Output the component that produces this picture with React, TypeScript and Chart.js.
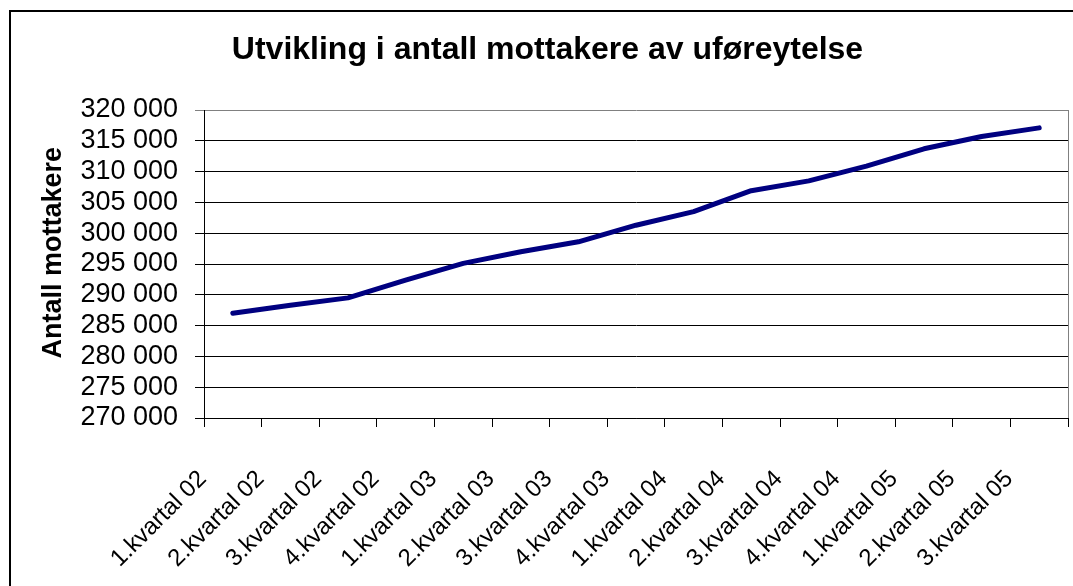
import React, { useEffect, useRef } from "react";
import { Chart, registerables } from "chart.js";

Chart.register(...registerables);

const categories = [
  "1.kvartal 02", "2.kvartal 02", "3.kvartal 02", "4.kvartal 02",
  "1.kvartal 03", "2.kvartal 03", "3.kvartal 03", "4.kvartal 03",
  "1.kvartal 04", "2.kvartal 04", "3.kvartal 04", "4.kvartal 04",
  "1.kvartal 05", "2.kvartal 05", "3.kvartal 05",
];
const mottakere = [
  287000, 288300, 289500, 292400, 295100, 297000, 298600, 301300,
  303500, 306900, 308500, 310900, 313700, 315700, 317100,
];
const yMin = 270000;
const yMax = 320000;
const yStep = 5000;
const chartTitle = "Utvikling i antall mottakere av uføreytelse";
const yTitle = "Antall mottakere";

const FONT = "'Liberation Sans', Arial, sans-serif";

function fmt(v: number): string {
  const t = Math.floor(v / 1000);
  const r = Math.round(v % 1000);
  return `${t} ${String(r).padStart(3, "0")}`;
}

const plotBorder = {
  id: "plotBorder",
  beforeDatasetsDraw(chart: any) {
    const { ctx, chartArea } = chart;
    ctx.save();
    ctx.strokeStyle = "#808080";
    ctx.lineWidth = 1;
    ctx.beginPath();
    const x = Math.round(chartArea.right) + 0.5;
    ctx.moveTo(x, chartArea.top);
    ctx.lineTo(x, chartArea.bottom);
    ctx.stroke();
    ctx.restore();
  },
};

export default function App() {
  const ref = useRef<HTMLCanvasElement | null>(null);

  useEffect(() => {
    if (!ref.current) return;
    const chart = new Chart(ref.current, {
      type: "line",
      data: {
        labels: categories,
        datasets: [
          {
            data: mottakere,
            borderColor: "#000080",
            backgroundColor: "#000080",
            borderWidth: 5,
            pointRadius: 0,
            borderCapStyle: "round",
            borderJoinStyle: "round",
            tension: 0,
          },
        ],
      },
      options: {
        animation: false,
        responsive: false,
        maintainAspectRatio: false,
        layout: { padding: { left: 27, right: 5, top: 0, bottom: 0 } },
        plugins: {
          legend: { display: false },
          tooltip: { enabled: false },
          title: {
            display: true,
            text: chartTitle,
            color: "#000",
            font: { family: FONT, size: 32, weight: "bold" },
            padding: { top: 31, bottom: 40.6 },
          },
        },
        scales: {
          x: {
            offset: true,
            grid: {
              offset: true,
              drawOnChartArea: false,
              drawTicks: true,
              tickLength: 9,
              color: "#000",
              lineWidth: 1,
            },
            border: { color: "#000", width: 1 },
            ticks: {
              autoSkip: false,
              maxRotation: 45,
              minRotation: 45,
              padding: 38,
              labelOffset: -30,
              color: "#000",
              font: { family: FONT, size: 24 },
            },
            afterFit: (s: any) => {
              s.height = 168;
              s.paddingLeft = 0;
              s.paddingRight = 0;
            },
          },
          y: {
            min: yMin,
            max: yMax,
            ticks: {
              stepSize: yStep,
              autoSkip: false,
              padding: 17,
              color: "#000",
              font: { family: FONT, size: 27 },
              callback: (v: any) => fmt(Number(v)),
            },
            grid: {
              color: (c: any) => (c.tick && c.tick.value === yMax ? "#808080" : "#000"),
              lineWidth: 1,
              tickLength: 9,
              drawTicks: true,
            },
            border: { color: "#000", width: 1 },
            title: {
              display: true,
              text: "   " + yTitle,
              color: "#000",
              font: { family: FONT, size: 27, weight: "bold" },
              padding: { top: 10.4, bottom: 0 },
            },
            afterFit: (s: any) => {
              s.width = 177;
            },
          },
        },
      } as any,
      plugins: [plotBorder],
    });
    return () => chart.destroy();
  }, []);

  return (
    <div
      style={{
        position: "fixed",
        left: 0,
        top: 0,
        width: 1073,
        height: 586,
        overflow: "hidden",
        background: "#fff",
      }}
    >
      <div
        style={{
          position: "absolute",
          left: 9,
          top: 10,
          width: 1100,
          height: 620,
          border: "2px solid #000",
          boxSizing: "border-box",
        }}
      />
      <canvas
        ref={ref}
        width={1073}
        height={586}
        style={{ position: "absolute", left: 0, top: 0, display: "block" }}
      />
    </div>
  );
}
